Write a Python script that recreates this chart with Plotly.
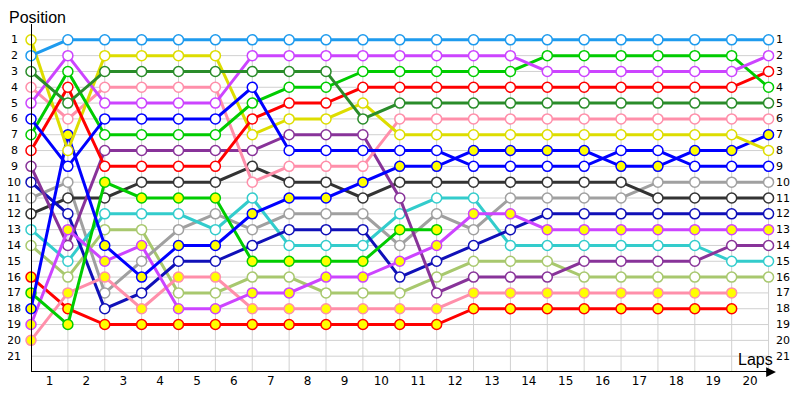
import plotly.graph_objects as go

# Lap chart: position of each car at the end of every lap (lap 0 = grid)
LAPS = list(range(0, 21))
LAP_LABELS = [str(n) for n in range(1, 21)]
POSITION_LABELS = [str(n) for n in range(1, 22)]

light_blue = [2, 1, 1, 1, 1, 1, 1, 1, 1, 1, 1, 1, 1, 1, 1, 1, 1, 1, 1, 1, 1]
yellow = [1, 8, 2, 2, 2, 2, 7, 6, 6, 5, 7, 7, 7, 7, 7, 7, 7, 7, 7, 7, 8]
dark_green = [3, 5, 3, 3, 3, 3, 3, 3, 3, 6, 5, 5, 5, 5, 5, 5, 5, 5, 5, 5, 5]
pink = [4, 6, 4, 4, 4, 4, 10, 9, 9, 9, 6, 6, 6, 6, 6, 6, 6, 6, 6, 6, 6]
violet = [5, 2, 5, 5, 5, 5, 2, 2, 2, 2, 2, 2, 2, 2, 3, 3, 3, 3, 3, 3, 2]
blue = [6, 9, 6, 6, 6, 6, 4, 8, 8, 8, 8, 8, 9, 9, 9, 9, 8, 8, 9, 9, 9]
green = [7, 3, 7, 7, 7, 7, 5, 4, 4, 3, 3, 3, 3, 3, 2, 2, 2, 2, 2, 2, 4]
red = [8, 4, 9, 9, 9, 9, 6, 5, 5, 4, 4, 4, 4, 4, 4, 4, 4, 4, 4, 4, 3]
purple = [9, 14, 8, 8, 8, 8, 8, 7, 7, 7, 11, 17, 16, 16, 16, 15, 15, 15, 15, 14, 14]
dark_blue = [10, 12, 18, 17, 15, 15, 14, 13, 13, 13, 16, 15, 14, 13, 12, 12, 12, 12, 12, 12, 12]
gray = [11, 10, 17, 15, 13, 12, 13, 12, 12, 12, 14, 12, 13, 11, 11, 11, 11, 10, 10, 10, 10]
dark_gray = [12, 11, 11, 10, 10, 10, 9, 10, 10, 11, 10, 10, 10, 10, 10, 10, 10, 11, 11, 11, 11]
cyan = [13, 15, 12, 12, 12, 13, 11, 14, 14, 14, 12, 11, 11, 14, 14, 14, 14, 14, 14, 15, 15]
olive = [14, 16, 13, 13, 17, 17, 16, 16, 17, 17, 17, 16, 15, 15, 15, 16, 16, 16, 16, 16, 16]
red_y = [16, 18, 19, 19, 19, 19, 19, 19, 19, 19, 19, 19, 18, 18, 18, 18, 18, 18, 18, 18, None]
green_y = [17, 19, 10, 11, 11, 11, 15, 15, 15, 15, 13, 13] + [None] * 9
blue_y = [18, 7, 14, 16, 14, 14, 12, 11, 11, 10, 9, 9, 8, 8, 8, 8, 9, 9, 8, 8, 7]
violet_y = [19, 13, 15, 14, 18, 18, 17, 17, 16, 16, 15, 14, 12, 12, 13, 13, 13, 13, 13, 13, 13]
pink_y = [20, 17, 16, 18, 16, 16, 18, 18, 18, 18, 18, 18, 17, 17, 17, 17, 17, 17, 17, 17, None]

# (positions, line colour, marker fill)
SERIES = [
    (olive, "#A8C86E", "white"),
    (gray, "#A0A0A0", "white"),
    (cyan, "#33CCCC", "white"),
    (dark_gray, "#333333", "white"),
    (dark_blue, "#1010B8", "white"),
    (purple, "#883399", "white"),
    (red_y, "#FF0000", "#FFFF00"),
    (pink_y, "#FF8FAA", "#FFFF00"),
    (violet_y, "#CC44FF", "#FFFF00"),
    (green_y, "#00CC00", "#FFFF00"),
    (blue_y, "#0000FF", "#FFFF00"),
    (pink, "#FF8FAA", "white"),
    (yellow, "#DDDD00", "white"),
    (red, "#FF0000", "white"),
    (green, "#00CC00", "white"),
    (blue, "#0000FF", "white"),
    (violet, "#CC44FF", "white"),
    (dark_green, "#2A8C2A", "white"),
    (light_blue, "#1E9BEE", "white"),
]

FONT = "DejaVu Sans"
TITLE_FONT = "Liberation Sans"
GRID = "#D0D0D0"

fig = go.Figure()

for positions, colour, fill in SERIES:
    fig.add_trace(
        go.Scatter(
            x=LAPS,
            y=positions,
            mode="lines+markers",
            line=dict(color=colour, width=3),
            marker=dict(size=10, color=fill, line=dict(color=colour, width=1.5)),
            cliponaxis=False,
            showlegend=False,
            hoverinfo="skip",
        )
    )

n_laps = LAPS[-1]
n_pos = len(POSITION_LABELS)
shapes = []
# grid
for p in range(1, n_pos + 1):
    shapes.append(dict(type="line", xref="x", yref="y", x0=0, x1=n_laps, y0=p, y1=p,
                       line=dict(color=GRID, width=1), layer="below"))
for lap in LAPS[1:]:
    shapes.append(dict(type="line", xref="x", yref="y", x0=lap, x1=lap, y0=1, y1=n_pos + 1,
                       line=dict(color=GRID, width=1), layer="below"))
# axes
shapes.append(dict(type="line", xref="x", yref="y", x0=0, x1=0, y0=0, y1=n_pos + 1,
                   line=dict(color="black", width=2)))
shapes.append(dict(type="line", xref="x", yref="y", x0=0, x1=n_laps + 0.1, y0=n_pos + 1, y1=n_pos + 1,
                   line=dict(color="black", width=2)))

annotations = []
for i, lab in enumerate(POSITION_LABELS):
    p = i + 1
    annotations.append(dict(x=0, y=p, xref="x", yref="y", text=lab, showarrow=False,
                            xanchor="center", xshift=-17, font=dict(family=FONT, size=11, color="black")))
    annotations.append(dict(x=n_laps, y=p, xref="x", yref="y", text=lab, showarrow=False,
                            xanchor="left", xshift=5, font=dict(family=FONT, size=11, color="black")))

annotations.append(dict(x=n_laps + 0.2, y=n_pos + 1, ax=n_laps - 0.1, ay=n_pos + 1,
                        xref="x", yref="y", axref="x", ayref="y", text="", showarrow=True,
                        arrowhead=2, arrowsize=1.3, arrowwidth=1.5, arrowcolor="black"))
annotations.append(dict(x=0, y=0, xref="x", yref="y", text="Position", showarrow=False,
                        xanchor="left", yanchor="middle", xshift=-23, yshift=7, borderpad=0,
                        font=dict(family=TITLE_FONT, size=16, color="black")))
annotations.append(dict(x=n_laps - 0.35, y=n_pos + 1, xref="x", yref="y", text="Laps", showarrow=False,
                        xanchor="center", yanchor="bottom", yshift=2,
                        font=dict(family=TITLE_FONT, size=16, color="black")))

# the page puts the figure 8px in from the window's corner
fig.update_layout(
    width=792,
    height=392,
    margin=dict(l=23, r=13, t=16, b=24),
    paper_bgcolor="white",
    plot_bgcolor="white",
    shapes=shapes,
    annotations=annotations,
    xaxis=dict(
        range=[0, 20.5],
        tickvals=[n - 0.5 for n in range(1, n_laps + 1)],
        ticktext=LAP_LABELS,
        showgrid=False,
        zeroline=False,
        showline=False,
        ticks="",
        tickfont=dict(family=FONT, size=12, color="black"),
        fixedrange=True,
    ),
    yaxis=dict(
        range=[n_pos + 1, 0],
        showgrid=False,
        zeroline=False,
        showline=False,
        showticklabels=False,
        fixedrange=True,
    ),
)

fig.write_html("out.html")
